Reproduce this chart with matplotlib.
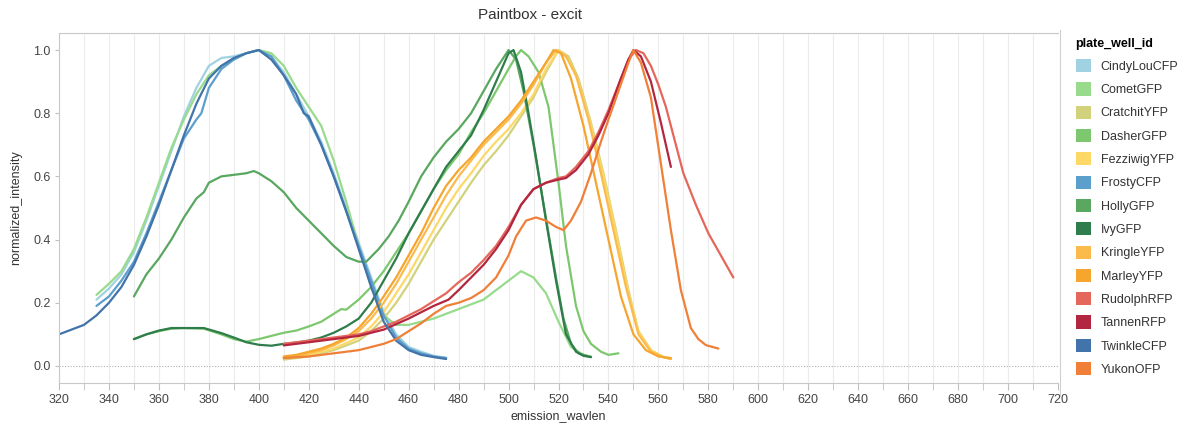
import matplotlib
matplotlib.use("Agg")
import matplotlib.pyplot as plt
from matplotlib.patches import Patch
from matplotlib.lines import Line2D

plt.rcParams['font.family'] = ['Liberation Sans', 'DejaVu Sans']

# series names and colours (legend order)
names = ['CindyLouCFP', 'CometGFP', 'CratchitYFP', 'DasherGFP', 'FezziwigYFP', 'FrostyCFP', 'HollyGFP',
         'IvyGFP', 'KringleYFP', 'MarleyYFP', 'RudolphRFP', 'TannenRFP', 'TwinkleCFP', 'YukonOFP']
colors = ['#a0d2e2', '#98db8c', '#d2d27c', '#7dc86e', '#fdd867', '#5c9fcd', '#5aa760',
          '#2f7d4c', '#fbbb4c', '#f6a52e', '#e5665b', '#b3263f', '#4273aa', '#f07f38']

# wavelength (nm) and normalized intensity
cindylou_wl = [335, 340, 345, 350, 355, 360, 365, 370, 375, 380, 385, 390, 395, 400, 405, 410, 415, 420,
               425, 430, 435, 440, 445, 450, 455, 460, 465, 470, 475]
cindylou_val = [0.21, 0.245, 0.29, 0.36, 0.46, 0.57, 0.68, 0.79, 0.88, 0.95, 0.975, 0.98, 0.99, 1.0, 0.98,
                0.93, 0.86, 0.79, 0.71, 0.61, 0.50, 0.39, 0.28, 0.17, 0.10, 0.06, 0.045, 0.032, 0.026]

comet_wl = [335, 340, 345, 350, 355, 360, 365, 370, 375, 380, 385, 390, 395, 400, 405, 410, 415, 420, 425,
            430, 435, 440, 445, 450, 455, 460, 465, 470, 475, 480, 485, 490, 495, 500, 505, 510, 515, 520,
            525, 530, 533]
comet_val = [0.225, 0.26, 0.30, 0.37, 0.47, 0.58, 0.69, 0.78, 0.86, 0.92, 0.95, 0.97, 0.99, 1.0, 0.99, 0.95,
             0.88, 0.82, 0.76, 0.65, 0.52, 0.38, 0.25, 0.16, 0.13, 0.13, 0.14, 0.15, 0.165, 0.18, 0.195,
             0.21, 0.24, 0.27, 0.30, 0.28, 0.23, 0.14, 0.06, 0.035, 0.03]

cratchit_wl = [410, 420, 430, 440, 445, 450, 455, 460, 465, 470, 475, 480, 485, 490, 495, 500, 505, 510,
               515, 520, 524, 528, 533, 538, 543, 548, 552, 557, 562, 565]
cratchit_val = [0.02, 0.03, 0.05, 0.08, 0.11, 0.15, 0.20, 0.26, 0.33, 0.40, 0.46, 0.52, 0.58, 0.635, 0.68,
                0.73, 0.79, 0.85, 0.93, 1.0, 0.98, 0.91, 0.77, 0.61, 0.43, 0.24, 0.11, 0.05, 0.028, 0.022]

dasher_wl = [350, 355, 360, 365, 370, 378, 385, 390, 395, 400, 405, 410, 415, 420, 425, 430, 433, 435, 440,
             445, 450, 455, 460, 465, 470, 475, 480, 485, 490, 495, 500, 503, 505, 508, 512, 516, 520, 523,
             527, 530, 533, 537, 540, 544]
dasher_val = [0.085, 0.10, 0.11, 0.118, 0.12, 0.118, 0.10, 0.085, 0.077, 0.085, 0.095, 0.105, 0.112, 0.125,
              0.14, 0.165, 0.18, 0.178, 0.21, 0.25, 0.30, 0.36, 0.42, 0.49, 0.56, 0.62, 0.67, 0.74, 0.80,
              0.87, 0.94, 0.98, 1.0, 0.98, 0.93, 0.82, 0.58, 0.38, 0.19, 0.11, 0.07, 0.045, 0.035, 0.04]

fezziwig_wl = [410, 420, 430, 440, 445, 450, 455, 460, 465, 470, 475, 480, 485, 490, 495, 500, 505, 510,
               515, 520, 524, 528, 533, 538, 543, 548, 552, 557, 562, 565]
fezziwig_val = [0.025, 0.035, 0.055, 0.09, 0.125, 0.17, 0.23, 0.29, 0.36, 0.43, 0.50, 0.56, 0.61, 0.665,
                0.71, 0.75, 0.80, 0.86, 0.94, 1.0, 0.97, 0.90, 0.76, 0.60, 0.42, 0.23, 0.11, 0.05, 0.028, 0.022]

frosty_wl = [335, 340, 345, 350, 355, 360, 365, 370, 375, 377, 380, 385, 390, 395, 400, 405, 410, 415, 420,
             425, 430, 435, 440, 445, 450, 455, 460, 465, 470, 475]
frosty_val = [0.19, 0.22, 0.27, 0.33, 0.42, 0.52, 0.62, 0.72, 0.78, 0.80, 0.88, 0.94, 0.97, 0.99, 1.0, 0.98,
              0.92, 0.84, 0.78, 0.70, 0.60, 0.49, 0.38, 0.27, 0.16, 0.09, 0.055, 0.04, 0.03, 0.025]

holly_wl = [350, 355, 360, 365, 370, 375, 378, 380, 385, 390, 395, 398, 400, 405, 410, 415, 420, 425, 430,
            435, 440, 443, 448, 452, 456, 460, 465, 470, 475, 480, 485, 490, 495, 500, 503, 506, 510, 513,
            516, 519, 522, 525, 528, 533]
holly_val = [0.22, 0.29, 0.34, 0.40, 0.47, 0.53, 0.55, 0.58, 0.60, 0.605, 0.61, 0.617, 0.61, 0.585, 0.55,
             0.50, 0.46, 0.42, 0.38, 0.345, 0.33, 0.33, 0.37, 0.41, 0.46, 0.52, 0.60, 0.66, 0.71, 0.75, 0.80,
             0.87, 0.94, 1.0, 0.97, 0.87, 0.70, 0.56, 0.42, 0.28, 0.15, 0.07, 0.04, 0.028]

ivy_wl = [350, 355, 360, 365, 370, 378, 385, 390, 395, 400, 405, 410, 415, 420, 425, 430, 435, 440, 445,
          450, 455, 460, 465, 470, 475, 480, 485, 490, 495, 500, 502, 505, 508, 511, 515, 519, 523, 527, 530, 533]
ivy_val = [0.085, 0.10, 0.112, 0.12, 0.12, 0.12, 0.104, 0.09, 0.075, 0.067, 0.064, 0.07, 0.074, 0.08, 0.09,
           0.105, 0.125, 0.15, 0.20, 0.27, 0.34, 0.42, 0.49, 0.56, 0.63, 0.68, 0.73, 0.81, 0.90, 0.99, 1.0,
           0.93, 0.80, 0.66, 0.46, 0.27, 0.10, 0.045, 0.032, 0.028]

kringle_wl = [410, 415, 420, 425, 430, 435, 440, 445, 450, 455, 460, 465, 470, 475, 480, 485, 490, 495, 500,
              505, 510, 515, 519, 523, 527, 532, 537, 542, 547, 552, 557, 562, 565]
kringle_val = [0.025, 0.03, 0.04, 0.05, 0.065, 0.085, 0.11, 0.15, 0.20, 0.26, 0.33, 0.40, 0.47, 0.54, 0.60,
               0.65, 0.70, 0.74, 0.78, 0.83, 0.89, 0.96, 1.0, 0.98, 0.92, 0.78, 0.61, 0.43, 0.25, 0.10, 0.045,
               0.028, 0.022]

marley_wl = [410, 415, 420, 425, 430, 435, 440, 445, 450, 455, 460, 465, 470, 475, 480, 485, 490, 495, 500,
             505, 510, 515, 518, 521, 525, 530, 535, 540, 545, 550, 555, 560, 565]
marley_val = [0.03, 0.035, 0.045, 0.055, 0.07, 0.09, 0.12, 0.165, 0.22, 0.28, 0.35, 0.42, 0.50, 0.57, 0.62,
              0.66, 0.71, 0.75, 0.79, 0.84, 0.90, 0.96, 1.0, 0.99, 0.91, 0.76, 0.58, 0.40, 0.22, 0.10, 0.05,
              0.03, 0.025]

rudolph_wl = [410, 420, 430, 440, 445, 450, 455, 460, 465, 470, 475, 480, 485, 490, 495, 500, 505, 510, 515,
              520, 523, 527, 532, 536, 540, 545, 548, 551, 554, 557, 560, 563, 566, 570, 575, 580, 585, 590]
rudolph_val = [0.07, 0.08, 0.09, 0.10, 0.11, 0.125, 0.14, 0.16, 0.18, 0.205, 0.23, 0.265, 0.295, 0.335,
               0.38, 0.44, 0.51, 0.56, 0.58, 0.595, 0.60, 0.63, 0.68, 0.74, 0.81, 0.91, 0.97, 1.0, 0.99,
               0.95, 0.89, 0.82, 0.73, 0.61, 0.51, 0.42, 0.35, 0.28]

tannen_wl = [410, 420, 430, 440, 450, 460, 470, 476, 480, 485, 490, 495, 500, 505, 510, 515, 520, 523, 527,
             532, 536, 540, 545, 548, 550, 553, 557, 561, 565]
tannen_val = [0.065, 0.075, 0.085, 0.095, 0.115, 0.15, 0.19, 0.21, 0.24, 0.28, 0.32, 0.37, 0.43, 0.51, 0.56,
              0.58, 0.59, 0.595, 0.62, 0.67, 0.73, 0.80, 0.91, 0.97, 1.0, 0.98, 0.90, 0.77, 0.63]

twinkle_wl = [320, 325, 330, 335, 340, 345, 350, 355, 360, 365, 370, 375, 380, 385, 390, 395, 400, 405, 410,
              415, 418, 420, 425, 430, 435, 440, 445, 450, 455, 460, 465, 470, 475]
twinkle_val = [0.10, 0.115, 0.13, 0.16, 0.20, 0.25, 0.32, 0.41, 0.51, 0.62, 0.73, 0.83, 0.91, 0.95, 0.975,
               0.99, 1.0, 0.97, 0.92, 0.86, 0.80, 0.79, 0.70, 0.60, 0.49, 0.37, 0.25, 0.14, 0.08, 0.05,
               0.035, 0.028, 0.022]

yukon_wl = [410, 420, 430, 440, 450, 455, 460, 465, 470, 475, 480, 485, 490, 495, 500, 503, 507, 511, 515,
            519, 522, 525, 529, 533, 537, 540, 544, 548, 550, 553, 557, 561, 565, 569, 573, 576, 579, 584]
yukon_val = [0.025, 0.03, 0.04, 0.05, 0.07, 0.085, 0.11, 0.135, 0.165, 0.19, 0.20, 0.215, 0.24, 0.28, 0.35,
             0.41, 0.46, 0.47, 0.46, 0.44, 0.43, 0.46, 0.52, 0.61, 0.71, 0.78, 0.87, 0.96, 1.0, 0.96, 0.85,
             0.64, 0.43, 0.24, 0.12, 0.085, 0.066, 0.055]

series_wl = [cindylou_wl, comet_wl, cratchit_wl, dasher_wl, fezziwig_wl, frosty_wl, holly_wl,
             ivy_wl, kringle_wl, marley_wl, rudolph_wl, tannen_wl, twinkle_wl, yukon_wl]
series_val = [cindylou_val, comet_val, cratchit_val, dasher_val, fezziwig_val, frosty_val, holly_val,
              ivy_val, kringle_val, marley_val, rudolph_val, tannen_val, twinkle_val, yukon_val]

fig = plt.figure(figsize=(11.99, 4.28), dpi=100)
ax = fig.add_axes([59 / 1199, 45 / 428, 999 / 1199, 350 / 428])

for wl, val, c in zip(series_wl, series_val, colors):
    ax.plot(wl, val, color=c, lw=1.6, solid_capstyle='round', solid_joinstyle='round')

ax.set_xlim(320, 720)
ax.set_ylim(-0.054, 1.054)
ax.set_xticks(range(320, 721, 20))
ax.set_xticks(range(330, 720, 20), minor=True)
ax.set_yticks([0.0, 0.2, 0.4, 0.6, 0.8, 1.0])
ax.set_yticklabels(['0.0', '0.2', '0.4', '0.6', '0.8', '1.0'])
for x in range(320, 721, 10):
    ax.axvline(x, color='#ececec', lw=0.8, zorder=0)
ax.axhline(0, color='#b0b0b0', lw=0.8, ls=(0, (1, 1.5)), zorder=0)

ax.tick_params(axis='x', which='both', length=5, color='#c0c0c0', labelsize=9, labelcolor='#444444', pad=3)
ax.tick_params(axis='y', length=3, color='#c0c0c0', labelsize=9, labelcolor='#444444', pad=3)
for s in ax.spines.values():
    s.set_color('#c8c8c8')
ax.spines['right'].set_visible(False)

ax.set_xlabel('emission_wavlen', fontsize=9, color='#333333', labelpad=3)
ax.set_ylabel('normalized_intensity', fontsize=9, color='#333333', labelpad=8)
fig.text(530 / 1199, 1 - 15 / 428, 'Paintbox - excit', ha='center', va='center', fontsize=11, color='#333333')

# legend panel
fig.add_artist(Line2D([1060 / 1199, 1060 / 1199], [1 - 30 / 428, 1 - 395 / 428], color='#d0d0d0', lw=0.8))
handles = [Patch(facecolor=c, edgecolor='none') for c in colors]
leg = fig.legend(handles, names, loc='upper left', bbox_to_anchor=(1073 / 1199, 1 - 35 / 428),
                 frameon=False, fontsize=9, handlelength=1.25, handleheight=1.25, handletextpad=0.75,
                 labelspacing=0.76, borderaxespad=0, borderpad=0.2,
                 title='plate_well_id', title_fontproperties={'weight': 'bold', 'size': 9})
leg._legend_box.align = 'left'
for t in leg.get_texts():
    t.set_color('#333333')

fig.savefig('out.png', dpi=100)
